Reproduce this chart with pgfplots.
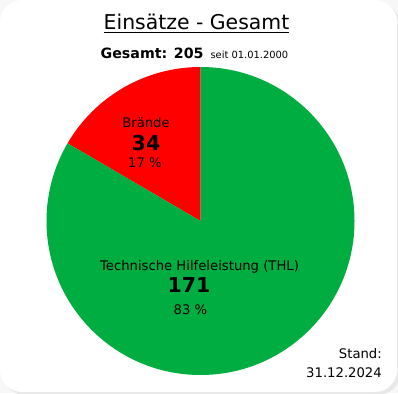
\documentclass[border=0pt]{standalone}
\usepackage{fontspec}
\setmainfont{DejaVu Sans}
\usepackage{pgfplots}
\usepackage{pgfplotstable}
\pgfplotsset{compat=1.18}
\definecolor{pieRed}{RGB}{255,0,0}
\definecolor{pieGreen}{RGB}{0,173,64}
\pgfplotstableread{
cat value
Braende 34
THL 171
}\piedata
\begin{document}
\begin{tikzpicture}[x=1pt,y=1pt]
\useasboundingbox (0,0) rectangle (398,393);
\fill[gray!6] (0,0) rectangle (398,393);
\fill[gray!18, rounded corners=22pt] (3,-2) rectangle (400,390);
\fill[white, rounded corners=22pt] (0,1) rectangle (397,393);
\pgfplotstablegetelem{0}{value}\of\piedata \let\valA\pgfplotsretval
\pgfplotstablegetelem{1}{value}\of\piedata \let\valB\pgfplotsretval
\pgfmathsetmacro\tot{\valA+\valB}
\pgfmathsetmacro\angA{\valA/\tot*360}
\pgfmathsetmacro\angB{\valB/\tot*360}
\begin{axis}[at={(200.5,172)}, anchor=origin, x=1pt, y=1pt,
  xmin=-160, xmax=160, ymin=-160, ymax=160, hide axis, clip=false]
\addplot[fill=pieRed, draw=none] coordinates {(0,0) (0,154)} arc[start angle=90, delta angle=\angA, radius=154pt] -- cycle;
\addplot[fill=pieGreen, draw=none] coordinates {(0,0) (0,154)} arc[start angle=90, delta angle=-\angB, radius=154pt] -- cycle;
\end{axis}
% titles
\node[anchor=base, inner sep=0pt] (t) at (196.5,363) {\fontsize{20.4}{24}\selectfont Einsätze - Gesamt};
\draw[line width=0.9pt] ([yshift=-2.6pt]t.base west) -- ([yshift=-2.6pt]t.base east);
\node[anchor=base west, inner sep=0pt] at (100.5,334) {{\fontsize{14.2}{17}\selectfont\bfseries Gesamt: 205}\hspace{7pt}{\fontsize{9.9}{12}\selectfont seit 01.01.2000}};
% labels
\node[anchor=base, inner sep=0pt] at (146,265) {\fontsize{13.2}{16}\selectfont Brände};
\node[anchor=base, inner sep=0pt] at (146,242) {\fontsize{20.5}{24}\selectfont\bfseries 34};
\node[anchor=base, inner sep=0pt] at (145,225) {\fontsize{13.2}{16}\selectfont 17 \%};
\node[anchor=base, inner sep=0pt] at (199.5,122) {\fontsize{13.2}{16}\selectfont Technische Hilfeleistung (THL)};
\node[anchor=base, inner sep=0pt] at (189,100) {\fontsize{20.5}{24}\selectfont\bfseries 171};
\node[anchor=base, inner sep=0pt] at (190.5,78) {\fontsize{13.2}{16}\selectfont 83 \%};
\node[anchor=base east, inner sep=0pt] at (382,35) {\fontsize{13.2}{16}\selectfont Stand:};
\node[anchor=base east, inner sep=0pt] at (382,16) {\fontsize{13.2}{16}\selectfont 31.12.2024};
\end{tikzpicture}
\end{document}
